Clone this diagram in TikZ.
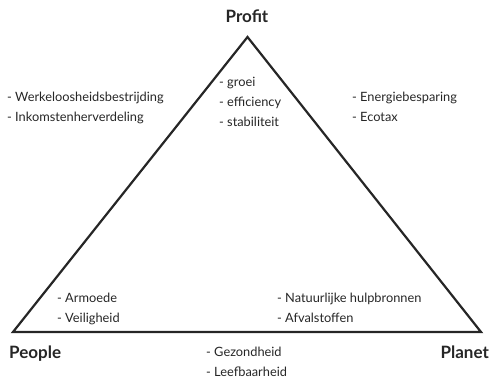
\documentclass[tikz,border=0pt]{standalone}
\usepackage{fontspec}
\setmainfont{Lato}
\begin{document}
\begin{tikzpicture}[x=1pt,y=-1pt,
  lbl/.style={inner sep=0pt, anchor=north west, align=left, font=\fontsize{12.8}{20}\selectfont, text=black!85},
  corner/.style={inner sep=0pt, font=\fontsize{17}{19}\selectfont\bfseries, text=black!85}]
\useasboundingbox (0,0) rectangle (490,383);
\coordinate (P) at (247.5,37);
\coordinate (L) at (13,332);
\coordinate (R) at (481,332);
\draw[line width=2.2pt, line join=miter, black!85] (P) -- (R) -- (L) -- cycle;
\node[corner, anchor=base] (profit) at (247,22) {Profit};
\node[corner, anchor=base west] (people) at (9,358) {People};
\node[corner, anchor=base east] (planet) at (489,358) {Planet};
\node[lbl] (center) at (219,77) {- groei\\- efficiency\\- stabiliteit};
\node[lbl] (left) at (7,92) {- Werkeloosheidsbestrijding\\- Inkomstenherverdeling};
\node[lbl] (right) at (352,92) {- Energiebesparing\\- Ecotax};
\node[lbl] (peo) at (57,293) {- Armoede\\- Veiligheid};
\node[lbl] (pla) at (277,293) {- Natuurlijke hulpbronnen\\- Afvalstoffen};
\node[lbl] (bot) at (206,347) {- Gezondheid\\- Leefbaarheid};
\end{tikzpicture}
\end{document}
